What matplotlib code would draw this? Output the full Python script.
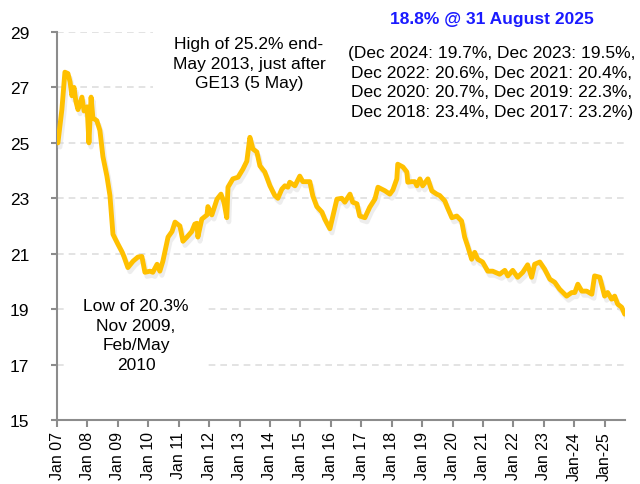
import numpy as np
import matplotlib
matplotlib.use("Agg")
import matplotlib.pyplot as plt
import matplotlib.patheffects as pe

plt.rcParams['font.family'] = ['Liberation Sans', 'DejaVu Sans']

t = [2007.03, 2007.16, 2007.26, 2007.36, 2007.43, 2007.49, 2007.56, 2007.62, 2007.69, 2007.82,
     2007.89, 2007.99, 2008.05, 2008.12, 2008.18, 2008.31, 2008.41, 2008.51, 2008.64, 2008.74,
     2008.84, 2009.00, 2009.14, 2009.20, 2009.33, 2009.50, 2009.66, 2009.79, 2009.89, 2010.06,
     2010.15, 2010.29, 2010.38, 2010.48, 2010.65, 2010.78, 2010.88, 2011.04, 2011.14, 2011.27,
     2011.43, 2011.53, 2011.60, 2011.63, 2011.76, 2011.93, 2011.96, 2012.09, 2012.26, 2012.39,
     2012.49, 2012.58, 2012.62, 2012.78, 2012.95, 2013.11, 2013.24, 2013.34, 2013.44, 2013.57,
     2013.67, 2013.83, 2014.00, 2014.16, 2014.26, 2014.39, 2014.49, 2014.59, 2014.65, 2014.82,
     2014.98, 2015.08, 2015.31, 2015.41, 2015.54, 2015.71, 2015.80, 2015.97, 2016.07, 2016.20,
     2016.36, 2016.46, 2016.63, 2016.72, 2016.86, 2016.95, 2017.12, 2017.28, 2017.45, 2017.55,
     2017.78, 2017.94, 2018.04, 2018.17, 2018.20, 2018.37, 2018.50, 2018.53, 2018.66, 2018.76,
     2018.83, 2018.93, 2019.02, 2019.19, 2019.32, 2019.48, 2019.58, 2019.75, 2019.82, 2019.98,
     2020.14, 2020.30, 2020.40, 2020.50, 2020.63, 2020.73, 2020.83, 2020.99, 2021.16, 2021.32,
     2021.55, 2021.72, 2021.82, 2021.98, 2022.14, 2022.31, 2022.47, 2022.60, 2022.70, 2022.87,
     2023.03, 2023.20, 2023.36, 2023.52, 2023.75, 2023.92, 2024.02, 2024.12, 2024.25, 2024.41,
     2024.58, 2024.67, 2024.84, 2025.00, 2025.10, 2025.23, 2025.33, 2025.43, 2025.56, 2025.66]
ratio = [25.0, 26.2, 27.55, 27.5, 27.2, 26.7, 27.0, 26.5, 26.2, 26.65,
         26.15, 26.3, 25.0, 26.65, 25.9, 25.8, 25.45, 24.5, 23.8, 23.1,
         21.7, 21.35, 21.06, 20.9, 20.5, 20.73, 20.88, 20.9, 20.33, 20.37,
         20.33, 20.62, 20.37, 20.73, 21.6, 21.8, 22.14, 22.0, 21.45, 21.6,
         21.8, 22.07, 22.1, 21.6, 22.25, 22.4, 22.7, 22.4, 22.97, 23.15,
         22.85, 22.3, 23.4, 23.7, 23.76, 24.05, 24.34, 25.2, 24.78, 24.67,
         24.17, 23.95, 23.45, 23.1, 23.0, 23.33, 23.45, 23.4, 23.58, 23.45,
         23.8, 23.6, 23.6, 23.08, 22.7, 22.5, 22.25, 21.9, 22.36, 22.97,
         23.0, 22.86, 23.15, 22.86, 22.8, 22.36, 22.3, 22.68, 22.97, 23.4,
         23.27, 23.15, 23.3, 23.7, 24.23, 24.13, 23.95, 23.58, 23.6, 23.6,
         23.45, 23.7, 23.45, 23.7, 23.27, 23.15, 23.1, 22.9, 22.7, 22.3,
         22.36, 22.18, 21.6, 21.27, 20.8, 21.05, 20.8, 20.7, 20.37, 20.37,
         20.26, 20.4, 20.2, 20.4, 20.15, 20.33, 20.6, 20.15, 20.62, 20.7,
         20.44, 20.08, 19.97, 19.72, 19.47, 19.6, 19.6, 19.9, 19.65, 19.65,
         19.54, 20.2, 20.15, 19.47, 19.6, 19.36, 19.47, 19.18, 19.07, 18.82]

years = list(range(2007, 2026))
xlabels = ['Jan %02d' % (y % 100) for y in range(2007, 2024)] + ['Jan-24', 'Jan-25']
yticks = [15, 17, 19, 21, 23, 25, 27, 29]

fig = plt.figure(figsize=(6.4, 4.85), dpi=100)
ax = fig.add_axes([57/640, 1-421/485, (625-57)/640, (421-33)/485])

ax.plot(t, ratio, color='#FFC000', lw=3.5, solid_joinstyle='round', solid_capstyle='round', zorder=3,
        path_effects=[pe.SimpleLineShadow(offset=(1.5, -3), shadow_color='#dcdcdc', alpha=0.5),
                      pe.Normal()])

ax.set_xlim(2007, 2025.67)
ax.set_ylim(15, 29)
ax.set_xticks(years)
ax.set_xticklabels(xlabels, rotation=90, fontsize=11.5)
ax.set_yticks(yticks)
ax.tick_params(axis='y', labelsize=12.5, length=4, width=1.5, color='#8c8c8c', pad=16)
ax.tick_params(axis='x', length=5, width=1.5, color='#8c8c8c', pad=3)
for s in ['top', 'right']:
    ax.spines[s].set_visible(False)
for s in ['left', 'bottom']:
    ax.spines[s].set_color('#8c8c8c')
    ax.spines[s].set_linewidth(1.5)
ax.set_axisbelow(True)
ax.grid(axis='y', color='#dedede', ls=(0, (4, 3)), lw=1.2)

box = dict(facecolor='white', edgecolor='none', pad=14)
fs = 12.5
ax.text(2013.31, 27.88, 'High of 25.2% end-\nMay 2013, just after\nGE13 (5 May)',
        ha='center', va='center', fontsize=fs, linespacing=1.38, bbox=box, zorder=2)
ax.text(2009.6, 18.06, 'Low of 20.3%\nNov 2009,\nFeb/May\n2010',
        ha='center', va='center', fontsize=fs, linespacing=1.38, bbox=box, zorder=2)
ax.text(2021.29, 27.2, '(Dec 2024: 19.7%, Dec 2023: 19.5%,\nDec 2022: 20.6%, Dec 2021: 20.4%,\n'
        'Dec 2020: 20.7%, Dec 2019: 22.3%,\nDec 2018: 23.4%, Dec 2017: 23.2%)',
        ha='center', va='center', fontsize=fs, linespacing=1.38, bbox=box, zorder=2)
ax.text(2021.29, 29.47, '18.8% @ 31 August 2025', ha='center', va='center',
        fontsize=fs, fontweight='bold', color='#1a1aff', zorder=2)

fig.savefig('out.png', dpi=100)
